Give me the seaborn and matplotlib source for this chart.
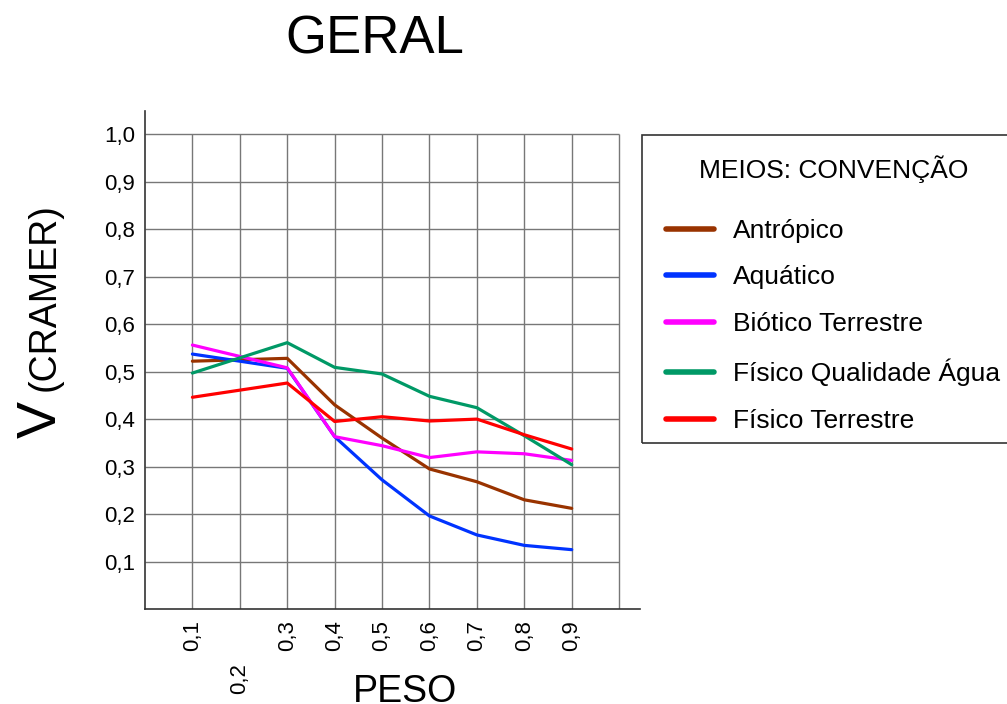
import pandas as pd
import matplotlib
matplotlib.use("Agg")
import matplotlib.pyplot as plt
from matplotlib.patches import Rectangle
import seaborn as sns

sns.set_style("white")
plt.rcParams['font.family'] = ['Liberation Sans', 'DejaVu Sans']
plt.rcParams['text.color'] = 'black'
plt.rcParams['xtick.color'] = 'black'
plt.rcParams['ytick.color'] = 'black'

# peso values (x) and V de Cramer for each "meio"
peso = [0.1, 0.3, 0.4, 0.5, 0.6, 0.7, 0.8, 0.9]
antropico = [0.522, 0.528, 0.430, 0.360, 0.295, 0.268, 0.230, 0.212]
aquatico = [0.537, 0.507, 0.363, 0.272, 0.196, 0.156, 0.134, 0.125]
biotico = [0.556, 0.508, 0.363, 0.344, 0.319, 0.331, 0.327, 0.313]
fis_agua = [0.497, 0.561, 0.509, 0.495, 0.448, 0.424, 0.365, 0.304]
fis_terr = [0.446, 0.476, 0.395, 0.405, 0.396, 0.400, 0.367, 0.337]

meios = ["Antrópico", "Aquático", "Biótico Terrestre",
         "Físico Qualidade Água", "Físico Terrestre"]
cores = ["#993300", "#0033ff", "#ff00ff", "#009966", "#ff0000"]

xgrid = [0.1, 0.2, 0.3, 0.4, 0.5, 0.6, 0.7, 0.8, 0.9, 1.0]
xticks = [0.1, 0.3, 0.4, 0.5, 0.6, 0.7, 0.8, 0.9]
xlabels = ["0,1", "0,3", "0,4", "0,5", "0,6", "0,7", "0,8", "0,9"]
yticks = [0.1, 0.2, 0.3, 0.4, 0.5, 0.6, 0.7, 0.8, 0.9, 1.0]
ylabels = ["0,1", "0,2", "0,3", "0,4", "0,5", "0,6", "0,7", "0,8", "0,9", "1,0"]

rows = []
for nome, vals in zip(meios, [antropico, aquatico, biotico, fis_agua, fis_terr]):
    for p, v in zip(peso, vals):
        rows.append({"peso": p, "v": v, "meio": nome})
df = pd.DataFrame(rows)

fig = plt.figure(figsize=(10.07, 7.04), dpi=100)
ax = fig.add_axes([145/1007, 1 - 609/704, 495/1007, 498/704])

# grid only inside the 0..1 box
ax.vlines(xgrid, 0, 1.0, color='#777777', linewidth=1, zorder=0.5)
ax.hlines(yticks, 0, 1.0, color='#777777', linewidth=1, zorder=0.5)

sns.lineplot(data=df, x="peso", y="v", hue="meio", hue_order=meios,
             palette=dict(zip(meios, cores)), linewidth=2.3, ax=ax)

ax.set_xlim(0.0, 1.044)
ax.set_ylim(0.0, 1.049)
ax.set_xticks(xticks, labels=xlabels, rotation=90, fontsize=16)
ax.set_xticks([0.2], labels=["0,2"], minor=True, rotation=90, fontsize=16)
ax.set_yticks(yticks, labels=ylabels, fontsize=16)
ax.tick_params(axis='both', which='both', length=0)
ax.tick_params(axis='x', which='major', pad=8)
ax.tick_params(axis='x', which='minor', pad=39)
ax.tick_params(axis='y', pad=7)
ax.set_xlabel("")
ax.set_ylabel("")

for s in ['top', 'right']:
    ax.spines[s].set_visible(False)
for s in ['left', 'bottom']:
    ax.spines[s].set_color('#333333')
    ax.spines[s].set_linewidth(1.2)

fig.text(375/1007, 1 - 53/704, "GERAL", fontsize=38, ha='center', va='baseline')
fig.text(405/1007, 1 - 674/704, "PESO", fontsize=27, ha='center', va='top')
fig.text(42/1007, 1 - 420/704, "V", fontsize=40, rotation=90, ha='center', va='center')
fig.text(45/1007, 1 - 297/704, "(CRAMER)", fontsize=27, rotation=90, ha='center', va='center')

# legend frame drawn by hand (runs off the right edge like the original)
fig.patches.append(Rectangle((642/1007, 1 - 443/704), 380/1007, 308/704,
                             transform=fig.transFigure, fill=False,
                             edgecolor='#333333', linewidth=1.2))

leg = ax.legend(title="MEIOS: CONVENÇÃO", loc='upper left',
                bbox_to_anchor=(666/1007, 1 - 155/704), bbox_transform=fig.transFigure,
                fontsize=19, title_fontsize=19, frameon=False,
                borderaxespad=0, handlelength=1.8, handletextpad=0.75,
                labelspacing=0.86, borderpad=0)
for line in leg.get_lines():
    line.set_linewidth(4)
leg._legend_box.sep = 26

fig.savefig("out.png", dpi=100)
